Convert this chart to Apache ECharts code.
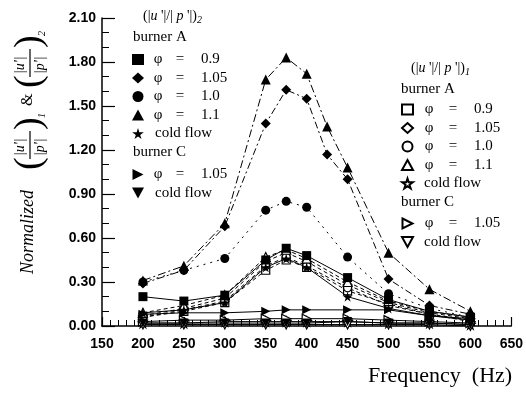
<!DOCTYPE html>
<html>
<head>
<meta charset="utf-8">
<script src="https://cdn.jsdelivr.net/npm/echarts@6/dist/echarts.min.js"></script>
<style>
  html,body{margin:0;padding:0;background:#fff;}
  #box{width:526px;height:394px;}
</style>
</head>
<body>
<div id="box"></div>
<script>
// frequencies (Hz)
var freq = [200, 250, 300, 350, 375, 400, 450, 500, 550, 600];
var freqPeak = [200, 250, 300, 350, 375, 400, 425, 450, 500, 550, 600];

// (|u'|/|p'|)2 , filled symbols
var a2_09 = [0.20, 0.17, 0.21, 0.45, 0.53, 0.48, 0.33, 0.18, 0.10, 0.06];
var a2_105 = [0.29, 0.38, 0.68, 1.38, 1.61, 1.55, 1.17, 1.00, 0.32, 0.14, 0.08];
var a2_10 = [0.30, 0.38, 0.46, 0.79, 0.85, 0.81, 0.47, 0.22, 0.12, 0.06];
var a2_11 = [0.31, 0.41, 0.70, 1.68, 1.83, 1.72, 1.36, 1.08, 0.50, 0.25, 0.10];
var a2_cold = [0.09, 0.11, 0.16, 0.40, 0.46, 0.40, 0.20, 0.12, 0.07, 0.04];
var c2_105 = [0.08, 0.09, 0.09, 0.10, 0.11, 0.11, 0.11, 0.11, 0.07, 0.05];
var c2_cold = [0.02, 0.02, 0.02, 0.02, 0.02, 0.02, 0.03, 0.02, 0.02, 0.01];

// (|u'|/|p'|)1 , open symbols
var a1_09 = [0.06, 0.10, 0.16, 0.38, 0.45, 0.40, 0.24, 0.15, 0.08, 0.03];
var a1_105 = [0.07, 0.12, 0.19, 0.44, 0.50, 0.44, 0.28, 0.16, 0.09, 0.05];
var a1_10 = [0.06, 0.11, 0.17, 0.41, 0.47, 0.41, 0.26, 0.14, 0.08, 0.04];
var a1_11 = [0.09, 0.14, 0.21, 0.47, 0.52, 0.46, 0.30, 0.17, 0.10, 0.06];
var a1_cold = [0.02, 0.02, 0.03, 0.03, 0.03, 0.03, 0.03, 0.02, 0.02, 0.01];
var c1_105 = [0.03, 0.04, 0.04, 0.05, 0.05, 0.05, 0.05, 0.04, 0.03, 0.02];
var c1_cold = [0.01, 0.01, 0.01, 0.01, 0.01, 0.01, 0.01, 0.01, 0.01, 0.00];

var STAR = 'path://M50,0 L61,35 L98,35 L68,57 L79,91 L50,70 L21,91 L32,57 L2,35 L39,35 Z';
var TRI_R = 'path://M0,0 L10,5 L0,10 Z';
var TRI_D = 'path://M0,0 L10,0 L5,9 Z';
var serif = 'Liberation Serif';

function pairs(xs, ys) {
  return xs.map(function (x, i) { return [x, ys[i]]; });
}

function mk(name, xs, ys, symbol, open, dash, size) {
  return {
    name: name,
    type: 'line',
    data: pairs(xs, ys),
    symbol: symbol,
    symbolSize: size || 9,
    showSymbol: true,
    animation: false,
    lineStyle: { color: '#000', width: 1, type: dash },
    itemStyle: open ? { color: '#fff', borderColor: '#000', borderWidth: 1.2 } : { color: '#000', borderWidth: 0 },
    z: open ? 3 : 4
  };
}

var series = [
  mk('A1 0.9', freq, a1_09, 'rect', true, [4, 3], 8),
  mk('A1 1.05', freq, a1_105, 'diamond', true, [4, 3], 9),
  mk('A1 1.0', freq, a1_10, 'circle', true, [4, 3], 8),
  mk('A1 1.1', freq, a1_11, 'triangle', true, [4, 3], 9),
  mk('A1 cold', freq, a1_cold, STAR, true, 'solid', 9),
  mk('C1 1.05', freq, c1_105, TRI_R, true, 'solid', 9),
  mk('C1 cold', freq, c1_cold, TRI_D, true, 'solid', 9),
  mk('A2 0.9', freq, a2_09, 'rect', false, 'solid', 9),
  mk('A2 1.05', freqPeak, a2_105, 'diamond', false, [7, 3, 2, 3], 10),
  mk('A2 1.0', freq, a2_10, 'circle', false, [2, 5], 9),
  mk('A2 1.1', freqPeak, a2_11, 'triangle', false, [8, 3, 2, 3], 10),
  mk('A2 cold', freq, a2_cold, STAR, false, 'solid', 10),
  mk('C2 1.05', freq, c2_105, TRI_R, false, 'solid', 9),
  mk('C2 cold', freq, c2_cold, TRI_D, false, 'solid', 9)
];

function fmt(name) {
  var key = name.split(' ')[1];
  if (key === 'cold') return '{c|cold flow}';
  return '{p|φ}{e|=}{v|' + key + '}';
}

function legendBlock(names, left, top, gap, wide, icon) {
  return {
    orient: 'vertical',
    left: left,
    top: top,
    padding: 0,
    itemGap: gap,
    itemWidth: icon,
    itemHeight: icon - 1,
    selectedMode: false,
    data: names.map(function (n) {
      var s = series.filter(function (x) { return x.name === n; })[0];
      return { name: n, icon: s.symbol };
    }),
    formatter: fmt,
    textStyle: {
      fontFamily: serif, fontSize: 15, color: '#000', lineHeight: 12,
      rich: {
        p: { fontFamily: serif, fontSize: 15, width: wide ? 22 : 18, align: 'center', lineHeight: 12 },
        e: { fontFamily: serif, fontSize: 15, width: 26, align: 'center', lineHeight: 12 },
        v: { fontFamily: serif, fontSize: 15, padding: [0, 0, 0, 8], lineHeight: 12 },
        c: { fontFamily: serif, fontSize: 15, padding: [0, 0, 0, 6], lineHeight: 12 }
      }
    }
  };
}

function header(x, y, sub) {
  return {
    type: 'text', left: x, top: y,
    style: {
      text: "(|{i|u} '|/| {i|p} '|){s|" + sub + "}",
      fontFamily: serif, fontSize: 14, fill: '#000',
      rich: {
        i: { fontFamily: serif, fontStyle: 'italic', fontSize: 14 },
        s: { fontFamily: serif, fontStyle: 'italic', fontSize: 10, padding: [8, 0, 0, 0] }
      }
    }
  };
}

function plain(x, y, txt, size) {
  return { type: 'text', left: x, top: y, style: { text: txt, fontFamily: serif, fontSize: size || 15, fill: '#000' } };
}

// rotated y-axis title pieces (local coords, group rotated 90deg)
function frac(x0, sub) {
  return [
    { type: 'text', x: x0, y: 2, style: { text: '(', fontFamily: serif, fontSize: 38, fill: '#000', verticalAlign: 'middle' } },
    { type: 'text', x: x0 + 14, y: -8, style: { text: "|u'|", fontFamily: serif, fontStyle: 'italic', fontSize: 14, fill: '#000', verticalAlign: 'middle' } },
    { type: 'line', shape: { x1: x0 + 11, y1: 2, x2: x0 + 39, y2: 2 }, style: { stroke: '#000', lineWidth: 1.2 } },
    { type: 'text', x: x0 + 14, y: 12, style: { text: "|p'|", fontFamily: serif, fontStyle: 'italic', fontSize: 14, fill: '#000', verticalAlign: 'middle' } },
    { type: 'text', x: x0 + 40, y: 2, style: { text: ')', fontFamily: serif, fontSize: 38, fill: '#000', verticalAlign: 'middle' } },
    { type: 'text', x: x0 + 52, y: 14, style: { text: sub, fontFamily: serif, fontStyle: 'italic', fontSize: 10, fill: '#000', verticalAlign: 'middle' } }
  ];
}

var mychart = echarts.init(document.getElementById('box'));
mychart.setOption({
  backgroundColor: '#fff',
  animation: false,
  grid: { left: 102, right: 9, top: 18, bottom: 68, containLabel: false },
  xAxis: {
    type: 'value', min: 150, max: 650, interval: 50,
    axisLine: { lineStyle: { color: '#000', width: 1.5 } },
    axisTick: { inside: true, length: 9, lineStyle: { color: '#000', width: 1.2 } },
    minorTick: { show: true, splitNumber: 5, length: 6, lineStyle: { color: '#000', width: 1 } },
    splitLine: { show: false },
    axisLabel: { color: '#000', fontFamily: 'Liberation Sans', fontWeight: 'bold', fontSize: 14, margin: 11 }
  },
  yAxis: {
    type: 'value', min: 0, max: 2.1, interval: 0.3,
    axisLine: { show: true, lineStyle: { color: '#000', width: 1.5 } },
    axisTick: { inside: true, length: 13, lineStyle: { color: '#000', width: 1.2 } },
    minorTick: { show: true, splitNumber: 3, length: 7, lineStyle: { color: '#000', width: 1 } },
    splitLine: { show: false },
    axisLabel: {
      color: '#000', fontFamily: 'Liberation Sans', fontWeight: 'bold', fontSize: 14, margin: 6,
      formatter: function (v) { return v.toFixed(2); }
    }
  },
  legend: [
    legendBlock(['A2 0.9', 'A2 1.05', 'A2 1.0', 'A2 1.1', 'A2 cold'], 132, 52, 3.5, false, 12),
    legendBlock(['C2 1.05', 'C2 cold'], 132, 167, 3.5, false, 12),
    legendBlock(['A1 0.9', 'A1 1.05', 'A1 1.0', 'A1 1.1', 'A1 cold'], 401, 102, 3.5, true, 11),
    legendBlock(['C1 1.05', 'C1 cold'], 401, 216, 3.5, true, 11)
  ],
  graphic: [
    header(143, 9, '2'),
    plain(133, 30, 'burner A'),
    plain(133, 145, 'burner C'),
    header(411, 61, '1'),
    plain(401, 82, 'burner A'),
    plain(401, 195, 'burner C'),
    { type: 'text', left: 368, top: 365, style: { text: 'Frequency  (Hz)', fontFamily: serif, fontSize: 22, fill: '#000' } },
    {
      type: 'group', x: 28, y: 274, rotation: Math.PI / 2,
      children: [
        { type: 'text', x: 0, y: 0, style: { text: 'Normalized', fontFamily: serif, fontStyle: 'italic', fontSize: 18, fill: '#000', verticalAlign: 'middle' } }
      ].concat(frac(104, '1'))
        .concat([{ type: 'text', x: 168, y: 0, style: { text: '&', fontFamily: serif, fontSize: 16, fill: '#000', verticalAlign: 'middle' } }])
        .concat(frac(186, '2'))
    }
  ],
  series: series
});
</script>
</body>
</html>
